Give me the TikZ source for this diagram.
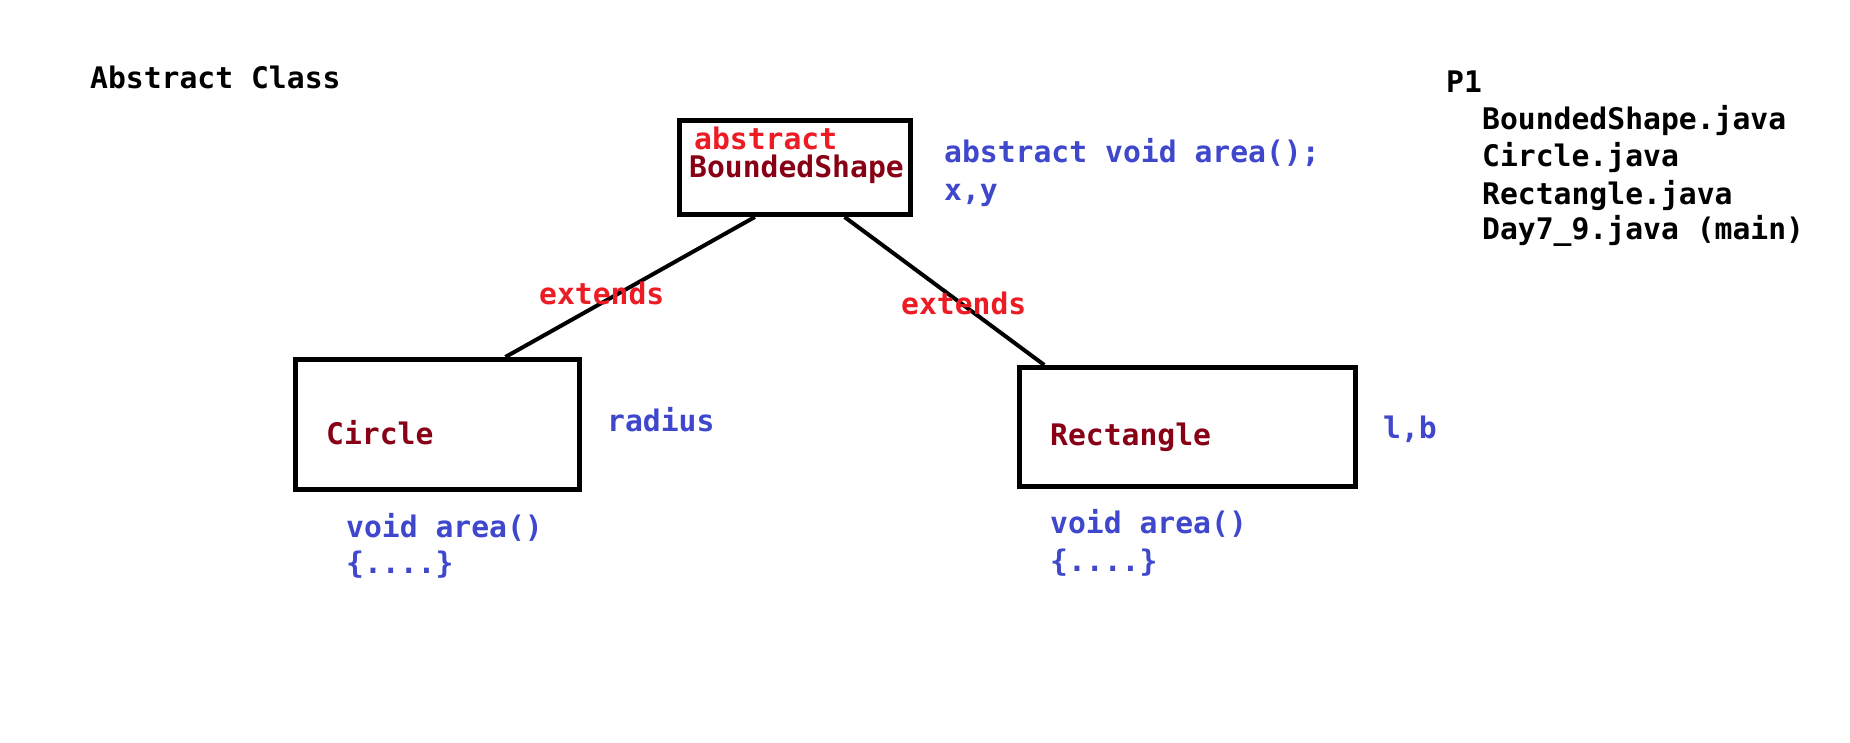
\documentclass[tikz,border=0pt]{standalone}
\usepackage{fontspec}
\setmonofont{DejaVu Sans Mono}
\usetikzlibrary{calc}
\definecolor{pred}{HTML}{ED1C24}
\definecolor{pdark}{HTML}{880015}
\definecolor{pblue}{HTML}{3F48CC}
\begin{document}
\begin{tikzpicture}[x=1pt,y=-1pt,
  txt/.style={font=\ttfamily\bfseries\fontsize{29.7}{36}\selectfont, inner sep=0pt, anchor=base west},
  clsbox/.style={draw, line width=5pt, rectangle, inner sep=0pt},
  conn/.style={line width=4pt}
]
\useasboundingbox[fill=white] (0,0) rectangle (1850,743);
% boxes
\node[clsbox, minimum width=231pt, minimum height=94pt] (top) at (795,167.5) {};
\node[clsbox, minimum width=284pt, minimum height=130pt] (circ) at (437.5,424.5) {};
\node[clsbox, minimum width=336pt, minimum height=119pt] (rect) at (1187.5,427) {};
% texts in boxes
\node[txt, text=pred] (absw) at (694,150) {abstract};
\node[txt, text=pdark] (bsname) at (689,178) {BoundedShape};
\node[txt, text=pdark] (cname) at (326,444) {Circle};
\node[txt, text=pdark] (rname) at (1050,445) {Rectangle};
% connectors
\draw[conn] ($(top.south west)!0.33!(top.south east)$) -- ($(circ.north west)!0.735!(circ.north east)$);
\draw[conn] ($(top.south west)!0.71!(top.south east)$) -- ($(rect.north west)!0.08!(rect.north east)$);
\node[txt, text=pred] (ext1) at (539,305) {extends};
\node[txt, text=pred] (ext2) at (901,315) {extends};
% other labels
\node[txt] (title) at (90,89) {Abstract Class};
\node[txt, text=pblue] (absm) at (944,163) {abstract void area();};
\node[txt, text=pblue] (xy) at (944,201) {x,y};
\node[txt, text=pblue] (rad) at (607,431) {radius};
\node[txt, text=pblue] (lb) at (1383,438) {l,b};
\node[txt, text=pblue] (carea) at (346,537) {void area()};
\node[txt, text=pblue] (cbody) at (346,573) {\{....\}};
\node[txt, text=pblue] (rarea) at (1050,533) {void area()};
\node[txt, text=pblue] (rbody) at (1050,571) {\{....\}};
% files list
\node[txt] (p1) at (1446,93) {P1};
\node[txt] (f1) at (1482,130) {BoundedShape.java};
\node[txt] (f2) at (1482,167) {Circle.java};
\node[txt] (f3) at (1482,205) {Rectangle.java};
\node[txt] (f4) at (1482,240) {Day7\_9.java (main)};
\end{tikzpicture}
\end{document}
